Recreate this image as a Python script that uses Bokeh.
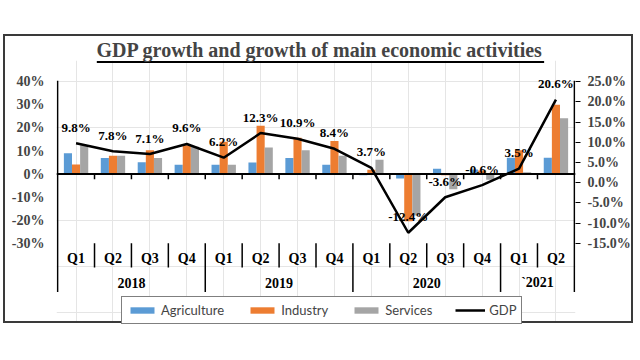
from bokeh.plotting import figure
from bokeh.models import (Range1d, LinearAxis, FixedTicker, PrintfTickFormatter, Span,
                          ColumnDataSource, Legend, LegendItem, FactorRange)
from bokeh.transform import dodge
from bokeh.core.properties import value
from bokeh.embed import file_html
from bokeh.resources import INLINE

# ---------------- data ----------------
years = ["2018", "2019", "2020", "`2021"]
quarters_per_year = [["Q1", "Q2", "Q3", "Q4"],
                     ["Q1", "Q2", "Q3", "Q4"],
                     ["Q1", "Q2", "Q3", "Q4"],
                     ["Q1", "Q2"]]
agriculture = [9.0, 7.0, 5.1, 4.1, 4.1, 5.0, 7.0, 4.1, -0.5, -1.9, 2.3, 2.0, 7.1, 7.1]
industry = [4.2, 8.0, 10.3, 12.5, 14.0, 21.0, 15.7, 14.3, 1.9, -20.5, -0.5, 1.5, 10.3, 30.1]
services = [12.5, 8.0, 7.0, 11.8, 4.1, 11.5, 10.3, 7.9, 6.2, -18.0, -6.6, -2.5, 0.8, 24.2]
gdp = [9.8, 7.8, 7.1, 9.6, 6.2, 12.3, 10.9, 8.4, 3.7, -12.4, -3.6, -0.6, 3.5, 20.6]
left_ticks = [-30, -20, -10, 0, 10, 20, 30, 40]
right_ticks = [-15, -10, -5, 0, 5, 10, 15, 20, 25]

title_text = "GDP growth and growth of main economic activities"
series_names = ["Agriculture", "Industry", "Services", "GDP"]
colors = ["#5B9BD5", "#ED7D31", "#A5A5A5"]

# ---------------- derived ----------------
cats, qlabels = [], []
year_anchor, year_sep, q_sep = [], [], []
for yi, (yr, qs) in enumerate(zip(years, quarters_per_year)):
    fs = [f"{yr} {q}" for q in qs]
    cats += fs
    qlabels += qs
    year_anchor.append(fs[len(fs) // 2 - 1])
    q_sep += fs[:-1]
    if yi < len(years) - 1:
        year_sep.append(fs[-1])

src = ColumnDataSource(dict(cat=cats, q=qlabels, agri=agriculture, ind=industry,
                            serv=services, gdp=gdp,
                            gdp_label=[f"{v}%" for v in gdp]))
ysrc = ColumnDataSource(dict(f=year_anchor, t=years))
qsep_src = ColumnDataSource(dict(f=q_sep))
ysep_src = ColumnDataSource(dict(f=year_sep))
tick_src = ColumnDataSource(dict(f=cats[:-1]))

SERIF = "Liberation Serif"
Y_TOP, Y_BOT = 49.24, -65.64          # left axis range (frame extends above/below ticks)
R_TOP, R_BOT = 30.28, -35.38          # right axis range
AX_TOP, AX_BOT = 40.5, -51.1          # extent of the drawn axis lines
UL_Y = 48.58                          # title underline height

p = figure(width=626, height=285,
           x_range=FactorRange(factors=cats, range_padding=0.03,
                               range_padding_units="absolute", factor_padding=0),
           y_range=Range1d(Y_BOT, Y_TOP),
           x_axis_location=None, y_axis_location=None,
           output_backend="svg", toolbar_location=None,
           min_border_left=51, min_border_right=60, min_border_top=24, min_border_bottom=0,
           outline_line_color=None, title=title_text)
p.margin = (34, 0, 0, 3)
p.styles = {"border": "2px solid #3a3a3a", "box-sizing": "content-box"}
p.extra_y_ranges = {"right": Range1d(R_BOT, R_TOP)}
p.background_fill_color = "white"
p.border_fill_color = "white"

p.title.text_font = SERIF
p.title.text_font_style = "bold"
p.title.text_font_size = "20px"
p.title.align = "left"
p.title.offset = 40
p.title.standoff = 0

# axes (labels/ticks only; axis lines drawn as segments so they stop above the legend)
yl = LinearAxis(ticker=FixedTicker(ticks=left_ticks),
                formatter=PrintfTickFormatter(format="%d%%"),
                major_tick_out=0, major_tick_in=0, minor_tick_line_color=None,
                axis_line_color=None,
                major_label_text_font=SERIF, major_label_text_font_style="bold",
                major_label_text_font_size="14px", major_label_standoff=12)
p.add_layout(yl, "left")
yr_ax = LinearAxis(y_range_name="right", ticker=FixedTicker(ticks=right_ticks),
                   formatter=PrintfTickFormatter(format="%.1f%%"),
                   major_tick_out=5, major_tick_in=0, minor_tick_line_color=None,
                   major_tick_line_color="black", major_tick_line_width=1,
                   axis_line_color=None,
                   major_label_text_font=SERIF, major_label_text_font_style="bold",
                   major_label_text_font_size="14px", major_label_standoff=7)
p.add_layout(yr_ax, "right")

# bars
w = 0.22
r_a = p.vbar(x=dodge("cat", -w, range=p.x_range), top="agri", width=w, source=src,
             fill_color=colors[0], line_color=None)
r_i = p.vbar(x=dodge("cat", 0, range=p.x_range), top="ind", width=w, source=src,
             fill_color=colors[1], line_color=None)
r_s = p.vbar(x=dodge("cat", w, range=p.x_range), top="serv", width=w, source=src,
             fill_color=colors[2], line_color=None)

# zero line with ticks
p.add_layout(Span(location=0, dimension="width", line_color="black", line_width=2))
p.segment(x0=dodge("f", 0.5, range=p.x_range), x1=dodge("f", 0.5, range=p.x_range),
          y0=0, y1=-2.2, source=tick_src, line_color="black", line_width=1.5)

# axis lines (left / right edges of the category range)
p.segment(x0=dodge("f", -0.5, range=p.x_range), x1=dodge("f", -0.5, range=p.x_range),
          y0=AX_TOP, y1=AX_BOT, source=ColumnDataSource(dict(f=[cats[0]])),
          line_color="black", line_width=1.5)
p.segment(x0=dodge("f", 0.5, range=p.x_range), x1=dodge("f", 0.5, range=p.x_range),
          y0=AX_TOP, y1=AX_BOT, source=ColumnDataSource(dict(f=[cats[-1]])),
          line_color="black", line_width=1.5)

# title underline
p.segment(x0=dodge("f", 0.562, range=p.x_range), x1=dodge("f", 12.68, range=p.x_range),
          y0=UL_Y, y1=UL_Y, source=ColumnDataSource(dict(f=[cats[0]])),
          line_color="black", line_width=2)

# category separators and labels
p.segment(x0=dodge("f", 0.5, range=p.x_range), x1=dodge("f", 0.5, range=p.x_range),
          y0=-30, y1=-40.5, source=qsep_src, line_color="black", line_width=1.5)
p.segment(x0=dodge("f", 0.5, range=p.x_range), x1=dodge("f", 0.5, range=p.x_range),
          y0=-30, y1=AX_BOT, source=ysep_src, line_color="black", line_width=1.5)
p.text(x="cat", y=-36.6, text="q", source=src, text_align="center", text_baseline="middle",
       text_font=value(SERIF), text_font_style="bold", text_font_size="14px", text_color="black")
p.text(x=dodge("f", 0.5, range=p.x_range), y=-47.2, text="t", source=ysrc,
       text_align="center", text_baseline="middle",
       text_font=value(SERIF), text_font_style="bold", text_font_size="14px", text_color="black")

# GDP line + labels
r_g = p.line(x="cat", y="gdp", source=src, y_range_name="right", line_color="black", line_width=2.5)
p.text(x="cat", y="gdp", text="gdp_label", source=src, y_range_name="right", y_offset=-16,
       text_align="center", text_baseline="middle",
       text_font=value(SERIF), text_font_style="bold", text_font_size="13px", text_color="black")

# legend (inside the frame, at the bottom)
legend = Legend(items=[LegendItem(label=series_names[0], renderers=[r_a]),
                       LegendItem(label=series_names[1], renderers=[r_i]),
                       LegendItem(label=series_names[2], renderers=[r_s]),
                       LegendItem(label=series_names[3], renderers=[r_g])],
                orientation="horizontal", location=(65, 1),
                border_line_color="black", border_line_width=1.5,
                background_fill_color="white", background_fill_alpha=1,
                label_text_font="Lato", label_text_font_size="13px",
                glyph_width=30, glyph_height=8, label_height=10, padding=5,
                spacing=23, label_standoff=4, margin=0)
p.add_layout(legend)

open("out.html", "w").write(file_html(p, INLINE))
